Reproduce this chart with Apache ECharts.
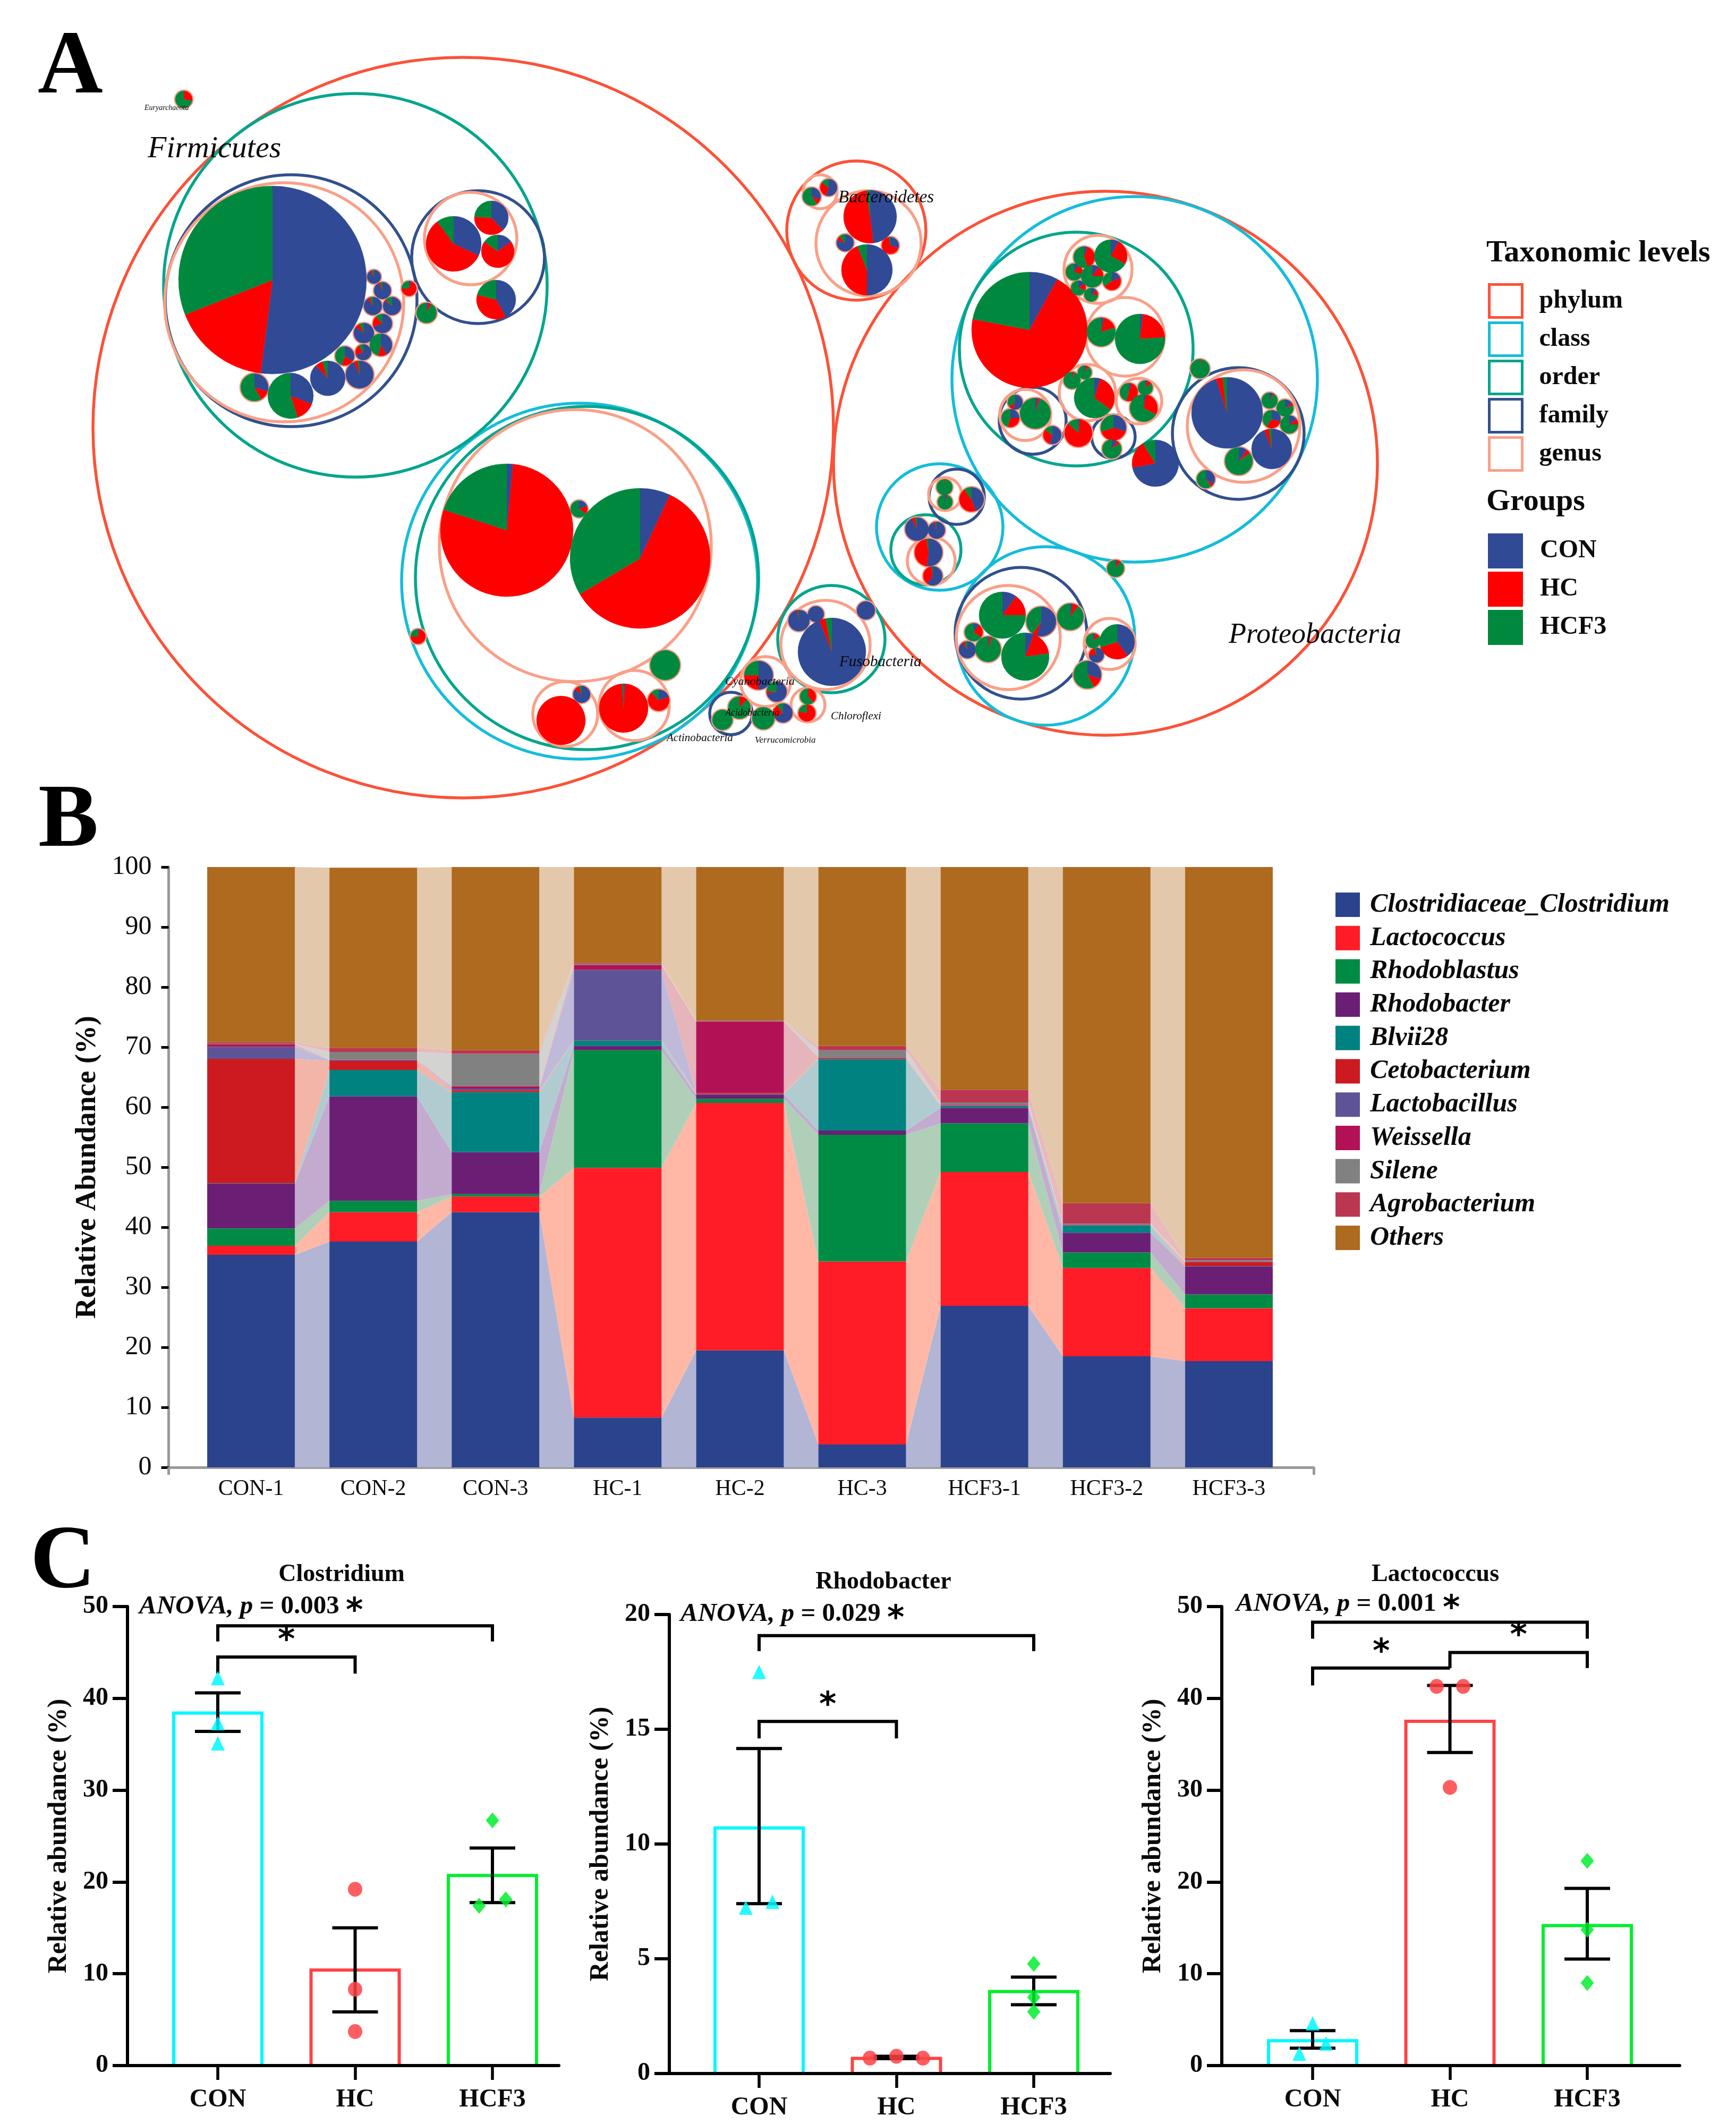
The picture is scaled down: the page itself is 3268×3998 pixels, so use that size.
<!DOCTYPE html>
<html><head><meta charset="utf-8">
<style>html,body{margin:0;padding:0;background:#fff}#c{width:3268px;height:3998px}</style>
<script src="https://cdn.jsdelivr.net/npm/echarts@6/dist/echarts.min.js"></script>
</head><body><div id="c"></div>
<script>
// ---------- Panel A: taxonomic circle pack, [x, y, r] in reading units of the picture
const phylumCircles = [[872,805,697],[1612,434,131],[2081,872,512]];
const classCircles = [[1091,1094,335],[2136,714,344],[1769,992,119],[1968,1197,168]];
const orderCircles = [[669,537,361],[1105,1088,323],[1565,1203,101],[2026,657,220],[1743,1035,66]];
const familyCircles = [[548,566,237],[900,484,125],[1376,1343,40],[1944,792,63],[2096,822,41],[2331,816,124],[1801,935,52],[1922,1192,124]];
const genusCircles = [[535,569,225],[886,449,87],[1083,1027,256],[1064,1344,61],[1194,1328,66],[1441,1283,47],[1521,1327,32],
 [1544,361,32],[1635,458,99],[1554,1214,84],[2067,507,64],[2118,634,74],[2047,739,53],[2144,755,43],[1930,781,48],[2341,802,106],
 [1779,930,31],[1753,1056,45],[1898,1200,98],[2089,1212,48]];
// [x, y, r, CON %, HC %, HCF3 %]
const pies = [
 [346,187,16,0,28,72],
 [513,527,177,52,17,31],[704,521,13,90,5,5],[720,547,16,92,4,4],[702,576,17,90,5,5],[738,576,17,85,3,12],[720,609,18,70,18,12],
 [685,627,19,85,8,7],[717,649,21,42,12,46],[684,663,15,70,20,10],[649,670,18,35,20,45],[677,705,26,93,5,2],[617,712,33,88,7,5],
 [547,745,43,31,14,55],[479,729,26,30,12,58],[770,543,14,5,70,25],[803,589,19,3,5,92],
 [854,459,52,32,58,10],[925,410,32,38,38,24],[937,473,31,15,70,15],[934,564,37,42,37,21],
 [954,998,125,1.5,78.5,20],[1205,1051,132,7,59.5,33.5],[1090,958,16,20,15,65],[1252,1252,28,0,0,100],[1056,1356,46,0,100,0],
 [1095,1307,16,85,10,5],[1174,1333,46,1,98,1],[1240,1318,20,20,68,12],[787,1198,14,3,72,25],
 [1360,1355,19,0,0,100],[1392,1332,21,0,12,88],[1428,1271,27,50,25,25],[1462,1302,19,72,4,24],[1437,1352,21,0,0,100],[1474,1342,18,68,22,10],
 [1521,1311,15,0,38,62],[1519,1342,16,0,78,22],
 [1528,370,17,30,10,60],[1560,353,16,55,30,15],[1638,408,50,48,50,2],[1632,508,48,50,44,6],[1591,457,16,80,8,12],[1676,462,16,30,68,2],
 [1938,621,109,8,70,22],[2041,484,20,5,40,55],[2091,482,31,8,25,67],[2022,512,16,10,20,70],[2056,520,21,10,15,75],[2093,529,17,20,45,35],[2030,542,14,15,15,70],[2054,555,13,15,10,75],
 [2073,625,27,3,17,80],[2146,638,47,2,22,76],[2060,749,38,5,30,65],[2018,716,16,2,3,95],[2042,701,13,5,5,90],
 [2125,738,17,5,50,45],[2156,730,14,5,10,85],[2153,768,26,3,30,67],
 [1949,778,29,3,2,95],[1911,757,14,55,10,35],[1902,787,17,25,30,45],[1981,819,17,55,30,15],[2030,815,26,2,85,13],
 [2096,805,24,30,40,30],[2093,845,18,10,5,85],[2175,872,44,72,19,9],
 [2310,777,67,95,3,2],[2394,845,38,94,4,2],[2332,868,26,10,5,85],[2390,754,15,8,2,90],[2419,768,16,15,5,80],[2394,789,17,30,30,40],[2427,799,17,15,10,75],
 [2270,902,17,35,5,60],[2259,694,18,0,2,98],[2100,1070,16,3,7,90],
 [1778,917,15,0,2,98],[1779,945,14,5,2,93],[1829,940,23,45,45,10],[1726,996,22,93,5,2],[1763,998,16,95,3,2],[1748,1040,26,52,46,2],[1756,1084,18,60,38,2],
 [1887,1158,44,10,15,75],[1930,1236,45,6,17,77],[1960,1170,28,55,5,40],[1860,1222,24,2,3,95],[1833,1190,17,10,25,65],[1821,1223,16,90,5,5],[2015,1161,25,3,7,90],
 [2103,1208,33,40,30,30],[2058,1206,14,5,10,85],[2064,1233,14,75,20,5],[2047,1270,26,30,12,58],
 [1566,1227,64,94,3,3],[1504,1168,20,97,2,1],[1536,1156,15,100,0,0],[1630,1149,17,100,0,0]
];
const taxonNames = ['Firmicutes','Proteobacteria','Bacteroidetes','Fusobacteria','Euryarchaeota','Actinobacteria','Verrucomicrobia','Cyanobacteria','Acidobacteria','Chloroflexi'];
const taxonSpots = [[278,281,58],[2313,1196,54],[1578,372,33],[1580,1246,29],[272,203,14],[1255,1389,21],[1421,1394,17],[1365,1283,22],[1365,1342,18],[1564,1348,21]];
const levelNames = ['phylum','class','order','family','genus'];
const groupNames = ['CON','HC','HCF3'];

// ---------- Panel B: relative abundance (%)
const sampleLabels = ['CON-1','CON-2','CON-3','HC-1','HC-2','HC-3','HCF3-1','HCF3-2','HCF3-3'];
const clostridiumB  = [35.4,37.6,42.5,8.3,19.5,3.8,26.9,18.5,17.7];
const lactococcusB  = [1.5,4.9,2.6,41.6,41.2,30.5,22.3,14.7,8.8];
const rhodoblastusB = [2.9,1.9,0.4,19.6,0.7,21.1,8.1,2.6,2.3];
const rhodobacterB  = [7.5,17.4,7,0.7,0.7,0.7,2.6,3.3,4.7];
const blvii28B      = [0.05,4.4,10,0.9,0.05,11.9,0.3,1.2,0.05];
const cetobacteriumB= [20.7,1.5,0.3,0.05,0.2,0.2,0.1,0.05,0.6];
const lactobacillusB= [2,0.1,0.3,11.75,0.05,0.05,0.1,0.05,0.05];
const weissellaB    = [0.4,0.1,0.4,0.8,11.9,0.05,0.1,0.05,0.05];
const sileneB       = [0.1,1.3,5.4,0.15,0.05,1.2,0.3,0.15,0.25];
const agrobacteriumB= [0.3,0.7,0.6,0.15,0.05,0.7,2.1,3.4,0.4];
const othersB       = [29.15,30,30.5,16,25.6,29.8,37.1,56,65.1];
const taxa = ['Clostridiaceae_Clostridium','Lactococcus','Rhodoblastus','Rhodobacter','Blvii28','Cetobacterium','Lactobacillus','Weissella','Silene','Agrobacterium','Others'];
const taxaValues = [clostridiumB,lactococcusB,rhodoblastusB,rhodobacterB,blvii28B,cetobacteriumB,lactobacillusB,weissellaB,sileneB,agrobacteriumB,othersB];

// ---------- Panel C
const groupLabels = ['CON','HC','HCF3'];
const clostridiumMeans = [38.4,10.4,20.7];
const clostridiumErr = [[36.4,40.6],[5.85,15],[17.75,23.7]];
const clostridiumPts = [[[0,42.2],[0,37.3],[0,35.1]],[[1,19.2],[1,8.3],[1,3.7]],[[2,26.7],[2.097,18.1],[1.903,17.4]]];
const clostridiumBrackets = [[0,2,47.9,46.2,46.2],[0,1,44.5,42.7,42.7]];
const clostridiumStars = [[0.5,46.9]];
const rhodobacterMeans = [10.7,0.66,3.57];
const rhodobacterErr = [[7.4,14.16],[0.65,0.75],[3,4.2]];
const rhodobacterPts = [[[0,17.5],[0.097,7.48],[-0.097,7.23]],[[0.807,0.67],[1,0.75],[1.193,0.67]],[[2,4.78],[2,3.32],[2,2.69]]];
const rhodobacterBrackets = [[0,2,19.08,18.4,18.4],[0,1,15.34,14.6,14.6]];
const rhodobacterStars = [[0.5,16.27]];
const lactococcusMeans = [2.7,37.5,15.25];
const lactococcusErr = [[1.9,3.8],[34.1,41.4],[11.6,19.3]];
const lactococcusPts = [[[0,4.6],[0.097,2.4],[-0.097,1.3]],[[0.903,41.3],[1.097,41.3],[1,30.3]],[[2,22.3],[2,14.8],[2,9]]];
const lactococcusBrackets = [[0,2,48.3,46.5,46.5],[0,1,43.3,41.4,43.3],[1,2,45,43.3,43.3]];
const lactococcusStars = [[0.5,45.6],[1.5,47.4]];

// ---------- styles
const SERIF = '"Liberation Serif","Times New Roman",serif';
const INK = '#0a0a0a';
const levelColors = {phylum:'#FB5238',class:'#14BDD9',order:'#00A58C',family:'#32508C',genus:'#F9A088'};
const groupColors = {CON:'#304A96',HC:'#FF0000',HCF3:'#00893E'};
const taxaColors = ['#2A438C','#FF1C27','#008B45','#6A1F75','#008280','#CC1A20','#5F5397','#B21255','#808180','#BB3650','#AE6A1E'];
const bandColors = ['#B3B5D4','#FFB8A6','#B0CFB9','#C3AACF','#B1CCD0','#F2B5A8','#BFB9DA','#E6B4BB','#D3D3D1','#EAB9BC','#E3C8AB'];
const cColors = ['#00F8FF','#FF4245','#00EE2E'];
const cSymbols = ['triangle','circle','diamond'];

const series = [];
// rings
const ringData = {phylum:phylumCircles,class:classCircles,order:orderCircles,family:familyCircles,
  genus:genusCircles.concat(pies.filter(p=>p[2]<30).map(p=>[p[0],p[1],p[2]+1]))};
levelNames.forEach((lv,li)=>{
  series.push({type:'custom',name:lv,xAxisIndex:0,yAxisIndex:0,clip:false,silent:true,z:2+li,
    itemStyle:{color:levelColors[lv]},encode:{x:0,y:1},data:ringData[lv],
    renderItem:(params,api)=>{
      const c=api.coord([api.value(0),api.value(1)]);
      const r=api.size([api.value(2),0])[0];
      return {type:'circle',shape:{cx:c[0],cy:c[1],r:r},
        style:{fill:'none',stroke:levelColors[lv],lineWidth:(lv==='genus'&&params.dataIndex>=genusCircles.length)?3:5.5}};
    }});
});
// pie wedges, one custom series per group
groupNames.forEach((g,gi)=>{
  series.push({type:'custom',name:g,xAxisIndex:0,yAxisIndex:0,clip:false,silent:true,z:10,
    itemStyle:{color:groupColors[g]},encode:{x:0,y:1},data:pies,
    renderItem:(params,api)=>{
      const c=api.coord([api.value(0),api.value(1)]);
      const r=api.size([api.value(2),0])[0];
      const v=[api.value(3),api.value(4),api.value(5)];
      const tot=v[0]+v[1]+v[2];
      let before=0; for(let k=0;k<gi;k++) before+=v[k];
      if(v[gi]<=0) return null;
      const a0=-Math.PI/2+before/tot*2*Math.PI, a1=a0+v[gi]/tot*2*Math.PI;
      return {type:'sector',shape:{cx:c[0],cy:c[1],r:r,r0:0,startAngle:a0,endAngle:a1,clockwise:true},
        style:{fill:groupColors[g],stroke:groupColors[g],lineWidth:0.4}};
    }});
});
// taxon names
series.push({type:'custom',name:'taxonNames',xAxisIndex:0,yAxisIndex:0,clip:false,silent:true,z:20,encode:{x:0,y:1},data:taxonSpots,
  renderItem:(params,api)=>{
    const c=api.coord([api.value(0),api.value(1)]);
    return {type:'text',style:{x:c[0],y:c[1],text:taxonNames[params.dataIndex],textAlign:'left',textVerticalAlign:'middle',
      font:'italic '+api.value(2)+'px '+SERIF,fill:INK}};
  }});

// Panel B stacked bars
const barWidthB = 165;
taxa.forEach((t,k)=>{
  series.push({type:'bar',name:t,xAxisIndex:1,yAxisIndex:1,stack:'b',barWidth:barWidthB,z:5,silent:true,
    itemStyle:{color:taxaColors[k]},data:taxaValues[k]});
});
// Panel B bands between neighbouring bars, built from running totals
const runningTotals = taxaValues.map((_,k)=>sampleLabels.map((_,i)=>{let s=0;for(let j=0;j<=k;j++)s+=taxaValues[j][i];return s;}));
const bandRows=[];
taxa.forEach((_,k)=>{ for(let i=0;i<sampleLabels.length-1;i++){
  bandRows.push([i,k?runningTotals[k-1][i]:0,runningTotals[k][i],k?runningTotals[k-1][i+1]:0,runningTotals[k][i+1],k]);
}});
series.push({type:'custom',name:'bands',xAxisIndex:1,yAxisIndex:1,silent:true,z:3,encode:{x:0,y:2},data:bandRows,
  renderItem:(params,api)=>{
    const i=api.value(0),k=api.value(5);
    const xl=api.coord([i,0])[0]+barWidthB/2, xr=api.coord([i+1,0])[0]-barWidthB/2;
    const yOf=v=>api.coord([i,v])[1];
    return {type:'polygon',shape:{points:[[xl,yOf(api.value(1))],[xl,yOf(api.value(2))],[xr,yOf(api.value(4))],[xr,yOf(api.value(3))]]},
      style:{fill:bandColors[k]}};
  }});

// Panel C
const barWidthC = 166;
function addPanel(ax,means,errs,pts,brackets,stars,name){
  // bar bodies
  series.push({type:'bar',name:name,xAxisIndex:ax,yAxisIndex:ax,barWidth:barWidthC,z:2,silent:true,
    data:means.map((v,i)=>({value:[i,v],itemStyle:{color:'#fff'}}))});
  // three-sided outlines: the axis closes the bottom
  series.push({type:'custom',name:name+' outline',xAxisIndex:ax,yAxisIndex:ax,clip:false,silent:true,z:3,encode:{x:0,y:1},
    data:means.map((v,i)=>[i,v]),
    renderItem:(params,api)=>{
      const t=api.coord([api.value(0),api.value(1)]),b=api.coord([api.value(0),0]);
      const h=barWidthC/2;
      return {type:'polyline',shape:{points:[[t[0]-h,b[1]],[t[0]-h,t[1]],[t[0]+h,t[1]],[t[0]+h,b[1]]]},
        style:{fill:'none',stroke:cColors[params.dataIndex],lineWidth:6,lineJoin:'miter'}};
    }});
  series.push({type:'custom',name:name+' error',xAxisIndex:ax,yAxisIndex:ax,clip:false,silent:true,z:4,encode:{x:0,y:1},
    data:errs.map((e,i)=>[i,e[0],e[1]]),
    renderItem:(params,api)=>{
      const x=api.value(0);
      const lo=api.coord([x,api.value(1)]),hi=api.coord([x,api.value(2)]);
      const st={stroke:'#000',lineWidth:6};
      return {type:'group',children:[
        {type:'line',shape:{x1:lo[0],y1:lo[1],x2:hi[0],y2:hi[1]},style:st},
        {type:'line',shape:{x1:lo[0]-43,y1:lo[1],x2:lo[0]+43,y2:lo[1]},style:st},
        {type:'line',shape:{x1:hi[0]-43,y1:hi[1],x2:hi[0]+43,y2:hi[1]},style:st}]};
    }});
  groupLabels.forEach((g,i)=>{
    series.push({type:'scatter',name:name+' '+g,xAxisIndex:ax,yAxisIndex:ax,clip:false,silent:true,z:6,
      symbol:cSymbols[i],symbolSize:i===1?[27,28]:(i===0?[26,27]:[25,30]),
      itemStyle:{color:cColors[i],opacity:0.85},data:pts[i]});
  });
  series.push({type:'custom',name:name+' brackets',xAxisIndex:ax,yAxisIndex:ax,clip:false,silent:true,z:5,encode:{x:0,y:2},data:brackets,
    renderItem:(params,api)=>{
      const x0=api.value(0),x1=api.value(1),t=api.value(2);
      return {type:'polyline',shape:{points:[api.coord([x0,api.value(3)]),api.coord([x0,t]),api.coord([x1,t]),api.coord([x1,api.value(4)])]},
        style:{fill:'none',stroke:'#000',lineWidth:6,lineJoin:'miter'}};
    }});
  series.push({type:'custom',name:name+' stars',xAxisIndex:ax,yAxisIndex:ax,clip:false,silent:true,z:7,encode:{x:0,y:1},data:stars,
    renderItem:(params,api)=>{
      const c=api.coord([api.value(0),api.value(1)]);
      return {type:'text',style:{x:c[0],y:c[1]+12,text:'*',textAlign:'center',textVerticalAlign:'middle',font:'bold 62px "DejaVu Sans"',fill:'#000'}};
    }});
}
addPanel(2,clostridiumMeans,clostridiumErr,clostridiumPts,clostridiumBrackets,clostridiumStars,'Clostridium');
addPanel(3,rhodobacterMeans,rhodobacterErr,rhodobacterPts,rhodobacterBrackets,rhodobacterStars,'Rhodobacter');
addPanel(4,lactococcusMeans,lactococcusErr,lactococcusPts,lactococcusBrackets,lactococcusStars,'Lactococcus');

// axes
const hiddenAxis=(gridIndex,min,max,inv)=>({type:'value',gridIndex,min,max,inverse:!!inv,show:false});
const xAxes=[hiddenAxis(0,0,3268),
  {type:'category',gridIndex:1,data:sampleLabels,boundaryGap:true,
   axisLine:{show:false},axisTick:{show:false},
   axisLabel:{fontFamily:SERIF,fontSize:42,color:INK,margin:20,interval:0}}];
const yAxes=[hiddenAxis(0,0,1560,true),
  {type:'value',gridIndex:1,offset:40,min:0,max:100,interval:10,splitLine:{show:false},
   axisLine:{show:true,lineStyle:{color:'#999',width:5}},
   axisTick:{show:true,length:14,lineStyle:{color:'#000',width:5}},
   axisLabel:{fontFamily:SERIF,fontSize:50,color:INK,margin:32,padding:[5,0,0,0]},
   name:'Relative Abundance (%)',nameLocation:'middle',nameRotate:90,nameGap:125,
   nameTextStyle:{fontFamily:SERIF,fontSize:54,fontWeight:'bold',color:INK}}];
const panelC=[
 {left:240,right:1052,top:3024,bottom:3888,first:410,yMax:50,step:10},
 {left:1260,right:2090,top:3039,bottom:3903,first:1429,yMax:20,step:5},
 {left:2300,right:3162,top:3024,bottom:3888,first:2471,yMax:50,step:10}];
panelC.forEach((p,pi)=>{
  const xMin=(p.left-p.first)/258.5,xMax=(p.right-p.first)/258.5;
  xAxes.push({type:'value',gridIndex:2+pi,min:xMin,max:xMax,splitLine:{show:false},z:8,
    axisLine:{show:true,onZero:false,lineStyle:{color:'#000',width:6}},
    axisTick:{show:true,customValues:[0,1,2],length:27,lineStyle:{color:'#000',width:5.5}},
    axisLabel:{customValues:[0,1,2],formatter:v=>groupLabels[v],fontFamily:SERIF,fontWeight:'bold',fontSize:48,color:INK,margin:41}});
  yAxes.push({type:'value',gridIndex:2+pi,min:0,max:p.yMax,interval:p.step,splitLine:{show:false},
    axisLine:{show:true,onZero:false,lineStyle:{color:'#000',width:6}},
    axisTick:{show:true,length:28,lineStyle:{color:'#000',width:6}},
    axisLabel:{fontFamily:SERIF,fontWeight:'bold',fontSize:48,color:INK,margin:36,padding:[6,0,0,0]},
    name:'Relative abundance (%)',nameLocation:'middle',nameRotate:90,nameGap:104,
    nameTextStyle:{fontFamily:SERIF,fontSize:50,fontWeight:'bold',color:INK}});
});
// long baseline of panel B, wider than the bar bands
xAxes.push({type:'value',gridIndex:5,min:0,max:1,splitLine:{show:false},
  axisLine:{show:true,onZero:false,lineStyle:{color:'#999',width:5}},
  axisTick:{show:true,customValues:[0,1],length:14,lineStyle:{color:'#999',width:5}},axisLabel:{show:false}});
yAxes.push({type:'value',gridIndex:5,min:0,max:1,show:false});
const grids=[{left:0,top:0,width:3268,height:1560},{left:357.5,top:1632,width:2071,height:1130}]
  .concat(panelC.map(p=>({left:p.left,top:p.top,width:p.right-p.left,height:p.bottom-p.top})))
  .concat([{left:317,top:1632,width:2156,height:1130}]);

// titles
const letter=(text,left,top)=>({text,left,top,padding:0,textStyle:{fontFamily:SERIF,fontSize:170,fontWeight:'bold',color:'#000'}});
const heading=(text,left,top)=>({text,left,top,padding:0,textStyle:{fontFamily:SERIF,fontSize:58,fontWeight:'bold',color:INK}});
const cTitle=(text,left,top)=>({text,left,top,padding:0,textAlign:'center',textStyle:{fontFamily:SERIF,fontSize:46,fontWeight:'bold',color:INK}});
const anova=(p,left,top)=>({text:'{i|ANOVA, p}{b| = '+p+' }{s|*}',left,top,padding:0,textStyle:{rich:{
   i:{fontFamily:SERIF,fontSize:49,fontWeight:'bold',fontStyle:'italic',color:INK},
   b:{fontFamily:SERIF,fontSize:49,fontWeight:'bold',color:INK},
   s:{fontFamily:'"DejaVu Sans"',fontSize:62,fontWeight:'bold',color:'#000',padding:[22,0,0,0]}}}});
const titles=[letter('A',71,45),letter('B',72,1463),letter('C',57,2858),
  heading('Taxonomic levels',2798,448),heading('Groups',2798,916),
  cTitle('Clostridium',643,2941),cTitle('Rhodobacter',1663,2955),cTitle('Lactococcus',2702,2941),
  anova('0.003',262,2982),anova('0.029',1281,2996),anova('0.001',2327,2977)];

const legends=[
 {left:2801,top:533,padding:0,orient:'vertical',itemWidth:62,itemHeight:62,itemGap:5,selectedMode:false,
  data:levelNames.map(n=>({name:n,icon:'rect',itemStyle:{color:'#fff',borderColor:levelColors[n],borderWidth:5}})),
  textStyle:{fontFamily:SERIF,fontSize:48,fontWeight:'bold',color:INK,padding:[0,0,0,27]}},
 {left:2801,top:1004,padding:0,orient:'vertical',itemWidth:66,itemHeight:66,itemGap:6,selectedMode:false,
  data:groupNames.map(n=>({name:n,icon:'rect',itemStyle:{color:groupColors[n],borderWidth:0}})),
  textStyle:{fontFamily:SERIF,fontSize:48,fontWeight:'bold',color:INK,padding:[0,0,0,27]}},
 {left:2514,top:1678,padding:0,orient:'vertical',itemWidth:46,itemHeight:46,itemGap:12.7,selectedMode:false,
  data:taxa.map((n,k)=>({name:n,icon:'rect',itemStyle:{color:taxaColors[k]}})),
  textStyle:{fontFamily:SERIF,fontSize:50,fontWeight:'bold',fontStyle:'italic',color:INK,padding:[0,0,0,14]}}
];

const chart=echarts.init(document.getElementById('c'));
chart.setOption({animation:false,backgroundColor:'#fff',title:titles,legend:legends,grid:grids,xAxis:xAxes,yAxis:yAxes,series:series,tooltip:{show:false}});
</script></body></html>
